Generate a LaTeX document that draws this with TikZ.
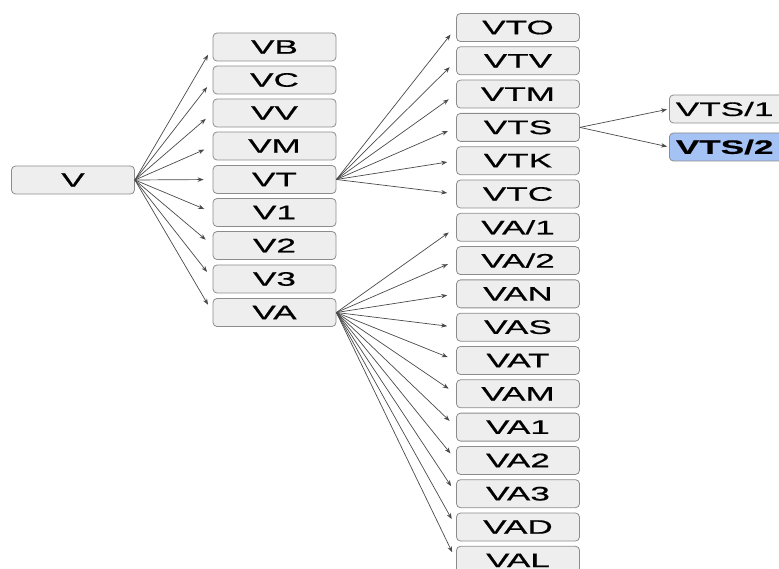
\documentclass[tikz,border=0pt]{standalone}
\usepackage{fontspec}
\setmainfont{Liberation Sans}[FakeStretch=1.8, FakeBold=0.6]
\usetikzlibrary{arrows.meta}
\definecolor{boxgray}{HTML}{8C8C8C}
\definecolor{boxfill}{HTML}{EEEEEE}
\definecolor{linegray}{HTML}{4A4A4A}
\definecolor{selblue}{HTML}{A4C2F4}
\begin{document}
\begin{tikzpicture}[x=1pt,y=-1pt,
  box/.style={draw=boxgray, fill=boxfill, rounded corners=4pt, minimum width=123pt,
    minimum height=28pt, inner sep=0pt, font=\fontsize{19.5}{20}\selectfont, line width=0.8pt},
  selbox/.style={box, fill=selblue, font=\fontsize{19.5}{20}\selectfont\bfseries},
  conn/.style={draw=linegray, line width=0.7pt, -{Stealth[length=6pt,width=4.5pt]}, shorten >=9pt},
  conn2/.style={conn, shorten >=2pt}
]
\useasboundingbox (0,0) rectangle (779,569);
% column 1
\node[box] (V) at (73,180) {V};
% column 2
\node[box] (VB) at (274.5,47) {VB};
\node[box] (VC) at (274.5,80) {VC};
\node[box] (VV) at (274.5,113) {VV};
\node[box] (VM) at (274.5,146) {VM};
\node[box] (VT) at (274.5,179.5) {VT};
\node[box] (V1) at (274.5,212.5) {V1};
\node[box] (V2) at (274.5,245.5) {V2};
\node[box] (V3) at (274.5,279) {V3};
\node[box] (VA) at (274.5,312.5) {VA};
% column 3
\node[box] (VTO) at (518,27.5) {VTO};
\node[box] (VTV) at (518,60.8) {VTV};
\node[box] (VTM) at (518,94.1) {VTM};
\node[box] (VTS) at (518,127.4) {VTS};
\node[box] (VTK) at (518,160.7) {VTK};
\node[box] (VTC) at (518,194) {VTC};
\node[box] (VAa) at (518,227.3) {VA/1};
\node[box] (VAb) at (518,260.6) {VA/2};
\node[box] (VAN) at (518,293.9) {VAN};
\node[box] (VAS) at (518,327.2) {VAS};
\node[box] (VAT) at (518,360.5) {VAT};
\node[box] (VAM) at (518,393.8) {VAM};
\node[box] (VA1) at (518,427.1) {VA1};
\node[box] (VA2) at (518,460.4) {VA2};
\node[box] (VA3) at (518,493.7) {VA3};
\node[box] (VAD) at (518,527) {VAD};
\node[box] (VAL) at (518,560.3) {VAL};
% column 4
\node[box, anchor=west, text width=110pt, align=left, inner xsep=4pt] (VTSa) at (669,109) {VTS/1};
\node[selbox, anchor=west, text width=110pt, align=left, inner xsep=4pt] (VTSb) at (669,147) {VTS/2};
% connectors
\foreach \t in {VB,VC,VV,VM,VT,V1,V2,V3,VA}
  \draw[conn] (V.east) -- (\t.west);
\foreach \t in {VTO,VTV,VTM,VTS,VTK,VTC}
  \draw[conn] (VT.east) -- (\t.west);
\foreach \t in {VAa,VAb,VAN,VAS,VAT,VAM,VA1,VA2,VA3,VAD,VAL}
  \draw[conn] (VA.east) -- (\t.west);
\draw[conn2] (VTS.east) -- (VTSa.west);
\draw[conn2] (VTS.east) -- (VTSb.west);
\end{tikzpicture}
\end{document}
